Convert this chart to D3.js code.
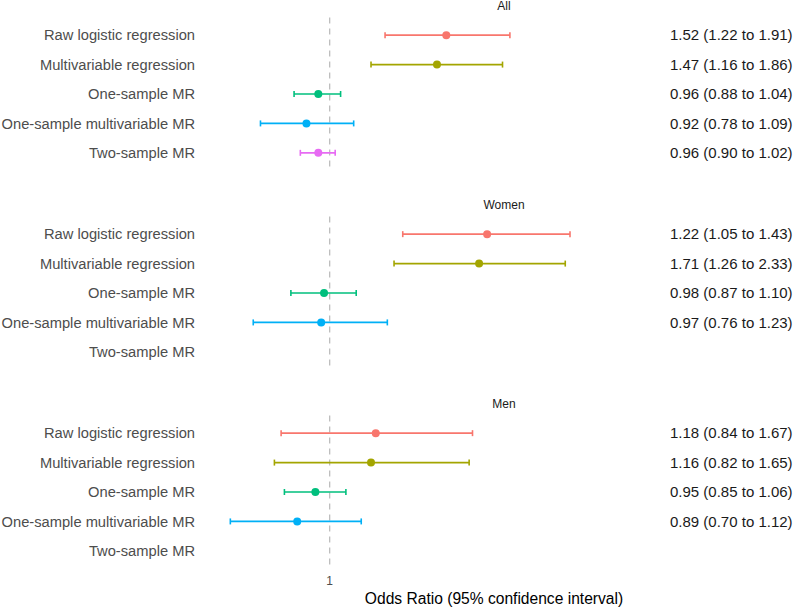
<!DOCTYPE html>
<html>
<head>
<meta charset="utf-8">
<script src="https://cdn.jsdelivr.net/npm/d3@7"></script>
<style>
  html, body { margin: 0; padding: 0; background: #fff; }
  svg { display: block; font-family: "Liberation Sans", Arial, sans-serif; }
</style>
</head>
<body>
<svg id="chart" width="794" height="608"></svg>
<script>
// ---- Data ----
const methods = ["Raw logistic regression", "Multivariable regression", "One-sample MR",
                 "One-sample multivariable MR", "Two-sample MR"];
const groups = ["All", "Women", "Men"];
const colors = ["#F8766D", "#A3A500", "#00BF7D", "#00B0F6", "#E76BF3"];

// plotted odds ratios (as drawn), null = not available
const estAll   = [1.52, 1.47, 0.96, 0.92, 0.96];
const lowAll   = [1.22, 1.16, 0.88, 0.78, 0.90];
const highAll  = [1.91, 1.86, 1.04, 1.09, 1.02];
const estWomen  = [1.76, 1.71, 0.98, 0.97, null];
const lowWomen  = [1.30, 1.26, 0.87, 0.76, null];
const highWomen = [2.37, 2.33, 1.10, 1.23, null];
const estMen   = [1.18, 1.16, 0.95, 0.89, null];
const lowMen   = [0.84, 0.82, 0.85, 0.70, null];
const highMen  = [1.67, 1.65, 1.06, 1.12, null];

// printed estimates
const textAll   = ["1.52 (1.22 to 1.91)", "1.47 (1.16 to 1.86)", "0.96 (0.88 to 1.04)", "0.92 (0.78 to 1.09)", "0.96 (0.90 to 1.02)"];
const textWomen = ["1.22 (1.05 to 1.43)", "1.71 (1.26 to 2.33)", "0.98 (0.87 to 1.10)", "0.97 (0.76 to 1.23)", ""];
const textMen   = ["1.18 (0.84 to 1.67)", "1.16 (0.82 to 1.65)", "0.95 (0.85 to 1.06)", "0.89 (0.70 to 1.12)", ""];

const xTicks = [1];
const xTitle = "Odds Ratio (95% confidence interval)";

// ---- Layout ----
const svg = d3.select("#chart");
const x = d3.scaleLog().domain([0.6, 2.6]).range([187.4, 595.8]);

const panels = [
  { name: groups[0], est: estAll, low: lowAll, high: highAll, text: textAll, top: 17.5 },
  { name: groups[1], est: estWomen, low: lowWomen, high: highWomen, text: textWomen, top: 216.5 },
  { name: groups[2], est: estMen, low: lowMen, high: highMen, text: textMen, top: 415.5 }
];
const panelH = 153;
const stripCenter = 504;

panels.forEach(p => {
  const y = d3.scalePoint().domain(methods).range([p.top, p.top + panelH]).padding(0.6);
  const g = svg.append("g");

  // reference line at OR = 1
  g.append("line")
    .attr("x1", x(1)).attr("x2", x(1))
    .attr("y1", p.top).attr("y2", p.top + panelH)
    .attr("stroke", "#BDBDBD").attr("stroke-width", 1.3)
    .attr("stroke-dasharray", "6,5");

  // strip title
  g.append("text")
    .attr("x", stripCenter).attr("y", p.top - 11.5)
    .attr("text-anchor", "middle").attr("dy", "0.35em")
    .attr("font-size", 12).attr("fill", "#1A1A1A")
    .text(p.name);

  // method labels
  g.selectAll("text.lab").data(methods).enter().append("text")
    .attr("class", "lab")
    .attr("x", 195).attr("y", d => y(d)).attr("dy", "0.35em")
    .attr("text-anchor", "end").attr("font-size", 14.7).attr("fill", "#4D4D4D")
    .text(d => d);

  const rows = methods.map((m, i) => ({ m, i, est: p.est[i], low: p.low[i], high: p.high[i] }))
    .filter(d => d.est != null);

  // error bars
  rows.forEach(d => {
    const c = colors[d.i];
    const yy = y(d.m);
    g.append("line").attr("x1", x(d.low)).attr("x2", x(d.high)).attr("y1", yy).attr("y2", yy)
      .attr("stroke", c).attr("stroke-width", 1.6);
    [d.low, d.high].forEach(v => {
      g.append("line").attr("x1", x(v)).attr("x2", x(v)).attr("y1", yy - 3).attr("y2", yy + 3)
        .attr("stroke", c).attr("stroke-width", 1.6);
    });
    g.append("circle").attr("cx", x(d.est)).attr("cy", yy).attr("r", 4).attr("fill", c);
  });

  // printed estimates
  g.selectAll("text.val").data(methods.map((m, i) => ({ m, t: p.text[i] })).filter(d => d.t)).enter()
    .append("text").attr("class", "val")
    .attr("x", 670).attr("y", d => y(d.m)).attr("dy", "0.35em")
    .attr("font-size", 15).attr("fill", "#1A1A1A")
    .text(d => d.t);
});

// x axis (tick label only)
svg.selectAll("text.tick").data(xTicks).enter().append("text")
  .attr("class", "tick")
  .attr("x", d => x(d)).attr("y", 581).attr("dy", "0.35em")
  .attr("text-anchor", "middle").attr("font-size", 12).attr("fill", "#4D4D4D")
  .text(d => d3.format("d")(d));

svg.append("text")
  .attr("x", 494).attr("y", 599).attr("dy", "0.35em")
  .attr("text-anchor", "middle").attr("font-size", 15.6).attr("fill", "#000")
  .text(xTitle);
</script>
</body>
</html>
